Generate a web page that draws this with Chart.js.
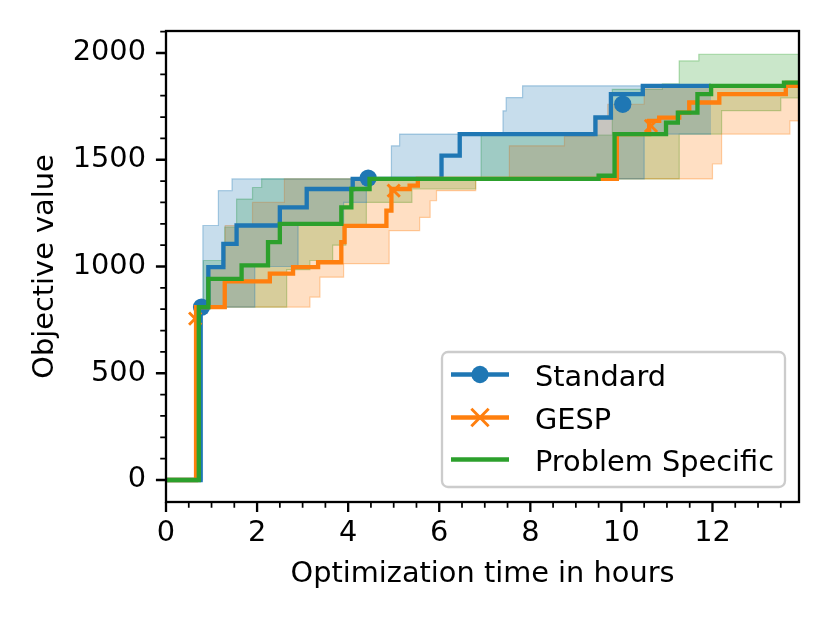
<!DOCTYPE html>
<html>
<head>
<meta charset="utf-8">
<script src="https://cdn.jsdelivr.net/npm/chart.js@4.4.1/dist/chart.umd.min.js"></script>
<style>
  html, body { margin: 0; padding: 0; background: #fff; }
  #wrap { width: 830px; height: 623px; }
</style>
</head>
<body>
<div id="wrap"><canvas id="myChart"></canvas></div>
<script>
// values: time in hours, objective value
// mean curves
var stdT  = [0, 0.76, 0.93, 1.26, 1.55, 2.5, 3.09, 4.1, 6.05, 6.45, 9.43, 9.77, 10.47, 11.97];
var stdY  = [0, 810, 997, 1106, 1192, 1277, 1363, 1410, 1519, 1620, 1698, 1807, 1846, 1846];
var gespT = [0, 0.66, 1.29, 2.28, 2.79, 3.34, 3.85, 3.92, 4.84, 4.95, 5.35, 5.53, 9.9, 10.61, 10.83, 11.27, 11.49, 12.15, 13.61, 13.9];
var gespY = [0, 810, 930, 967, 997, 1020, 1114, 1190, 1262, 1363, 1379, 1410, 1620, 1682, 1697, 1721, 1768, 1807, 1846, 1846];
var probT = [0, 0.72, 0.93, 1.66, 2.24, 2.5, 3.85, 4.07, 4.47, 9.5, 9.85, 10.98, 11.24, 11.67, 11.97, 13.57, 13.9];
var probY = [0, 810, 942, 1005, 1114, 1200, 1277, 1363, 1410, 1425, 1620, 1674, 1721, 1807, 1846, 1861, 1861];

// spread bands (upper / lower)
var stdUpT  = [0, 0.72, 0.81, 1.15, 1.45, 4.95, 5.13, 7.4, 7.47, 7.83, 11.97];
var stdUpY  = [0, 810, 1192, 1355, 1410, 1565, 1620, 1729, 1791, 1846, 1846];
var stdLoT  = [0, 0.8, 1.95, 2.9, 3.9, 4.4, 9.45, 10.5, 11.97];
var stdLoY  = [0, 810, 1000, 1192, 1300, 1410, 1410, 1620, 1620];
var gespUpT = [0, 0.64, 0.9, 1.3, 1.9, 2.6, 7.54, 8.75, 9.4, 9.7, 10.5, 12.2, 13.6, 13.9];
var gespUpY = [0, 810, 1000, 1192, 1300, 1410, 1565, 1610, 1700, 1760, 1846, 1850, 1870, 1870];
var gespLoT = [0, 0.68, 3.16, 3.38, 3.9, 4.9, 5.57, 5.8, 5.94, 6.8, 12.0, 12.2, 13.7, 13.9];
var gespLoY = [0, 810, 857, 950, 1013, 1168, 1230, 1308, 1355, 1410, 1480, 1620, 1682, 1682];
var probUpT = [0, 0.76, 0.82, 1.29, 1.55, 1.9, 2.1, 6.92, 9.8, 10.9, 11.27, 11.7, 13.9];
var probUpY = [0, 810, 1028, 1184, 1316, 1370, 1410, 1615, 1830, 1855, 1963, 1994, 1994];
var probLoT = [0, 0.78, 2.65, 3.16, 3.66, 3.95, 4.4, 5.4, 6.8, 11.27, 12.2, 13.5, 13.9];
var probLoY = [0, 810, 985, 1028, 1100, 1190, 1300, 1363, 1410, 1620, 1730, 1790, 1790];

// marker positions
var stdMarkT  = [0.78, 4.44, 10.03];
var stdMarkY  = [810, 1414, 1760];
var gespMarkT = [0.64, 5.0, 10.65];
var gespMarkY = [756, 1355, 1659];

var xTicks = [0, 2, 4, 6, 8, 10, 12];
var yTicks = [0, 500, 1000, 1500, 2000];
var seriesNames = ["Standard", "GESP", "Problem Specific"];

var blue = "#1f77b4", orange = "#ff7f0e", green = "#2ca02c";
function pts(t, y) { return t.map(function (v, i) { return {x: v, y: y[i]}; }); }
function alpha(hex, a) {
  var n = parseInt(hex.slice(1), 16);
  return "rgba(" + (n >> 16) + "," + ((n >> 8) & 255) + "," + (n & 255) + "," + a + ")";
}
function band(t, y, col, fill) {
  return {
    data: pts(t, y), stepped: true, pointRadius: 0, borderWidth: 1.2,
    borderColor: alpha(col, 0.35), backgroundColor: alpha(col, 0.25),
    fill: fill, order: 10
  };
}

var PX = 830 / 288;  // px per pt, figure was 4x3 in
var FS = 10 * PX;

Chart.defaults.font.family = "'DejaVu Sans'";
Chart.defaults.font.size = FS;
Chart.defaults.color = "#000";

// matplotlib style spines, ticks and legend
var mplAxes = {
  id: 'mplAxes',
  afterDraw: function (chart) {
    var ctx = chart.ctx, a = chart.chartArea;
    var xs = chart.scales.x, ys = chart.scales.y;
    ctx.save();
    ctx.strokeStyle = "#000";
    ctx.lineWidth = 0.6 * PX;
    ctx.beginPath();
    for (var v = 0; v <= xs.max; v += 0.5) {
      if (v % 2 === 0) continue;
      var px = xs.getPixelForValue(v);
      ctx.moveTo(px, a.bottom); ctx.lineTo(px, a.bottom + 2 * PX);
    }
    for (var w = 0; w <= ys.max; w += 100) {
      if (w % 500 === 0) continue;
      var py = ys.getPixelForValue(w);
      ctx.moveTo(a.left, py); ctx.lineTo(a.left - 2 * PX, py);
    }
    ctx.stroke();
    ctx.lineWidth = 0.8 * PX;
    ctx.beginPath();
    xTicks.forEach(function (v) {
      var px = xs.getPixelForValue(v);
      ctx.moveTo(px, a.bottom); ctx.lineTo(px, a.bottom + 3.5 * PX);
    });
    yTicks.forEach(function (v) {
      var py = ys.getPixelForValue(v);
      ctx.moveTo(a.left, py); ctx.lineTo(a.left - 3.5 * PX, py);
    });
    ctx.stroke();
    ctx.strokeRect(a.left, a.top, a.right - a.left, a.bottom - a.top);

    // legend
    var lx = 442, ly = 352, lw = 343, lh = 135, r = 6;
    ctx.beginPath();
    ctx.moveTo(lx + r, ly);
    ctx.arcTo(lx + lw, ly, lx + lw, ly + lh, r);
    ctx.arcTo(lx + lw, ly + lh, lx, ly + lh, r);
    ctx.arcTo(lx, ly + lh, lx, ly, r);
    ctx.arcTo(lx, ly, lx + lw, ly, r);
    ctx.closePath();
    ctx.fillStyle = "rgba(255,255,255,0.8)";
    ctx.fill();
    ctx.strokeStyle = "#cccccc";
    ctx.lineWidth = 0.8 * PX;
    ctx.stroke();
    var cols = [blue, orange, green];
    var rows = [374.5, 417.5, 459.5];
    for (var i = 0; i < 3; i++) {
      var yy = rows[i];
      ctx.strokeStyle = cols[i];
      ctx.lineWidth = 1.5 * PX;
      ctx.beginPath();
      ctx.moveTo(451, yy); ctx.lineTo(509, yy);
      ctx.stroke();
      if (i === 0) {
        ctx.fillStyle = blue;
        ctx.beginPath(); ctx.arc(480, yy, 3 * PX, 0, Math.PI * 2); ctx.fill();
      } else if (i === 1) {
        ctx.lineWidth = 1 * PX;
        ctx.beginPath();
        ctx.moveTo(480 - 3 * PX, yy - 3 * PX); ctx.lineTo(480 + 3 * PX, yy + 3 * PX);
        ctx.moveTo(480 - 3 * PX, yy + 3 * PX); ctx.lineTo(480 + 3 * PX, yy - 3 * PX);
        ctx.stroke();
      }
      ctx.fillStyle = "#000";
      ctx.font = FS + "px 'DejaVu Sans'";
      ctx.textBaseline = "alphabetic";
      ctx.textAlign = "left";
      ctx.fillText(seriesNames[i], 535, yy + 11);
    }
    ctx.restore();
  }
};

var ctx = document.getElementById("myChart").getContext('2d');
var myChart = new Chart(ctx, {
  type: 'line',
  data: {
    datasets: [
      // lines on top: lower order drawn last
      { label: seriesNames[2], data: pts(probT, probY), stepped: true, borderColor: green,
        borderWidth: 1.5 * PX, pointRadius: 0, fill: false, order: 0 },
      { label: seriesNames[1] + ' markers', data: pts(gespMarkT, gespMarkY), showLine: false,
        pointStyle: 'crossRot', pointRadius: 3 * PX, borderColor: orange, borderWidth: 1 * PX, order: 1 },
      { label: seriesNames[1], data: pts(gespT, gespY), stepped: true, borderColor: orange,
        borderWidth: 1.5 * PX, pointRadius: 0, fill: false, order: 2 },
      { label: seriesNames[0] + ' markers', data: pts(stdMarkT, stdMarkY), showLine: false,
        pointStyle: 'circle', pointRadius: 3 * PX, backgroundColor: blue, borderColor: blue, borderWidth: 0, order: 3 },
      { label: seriesNames[0], data: pts(stdT, stdY), stepped: true, borderColor: blue,
        borderWidth: 1.5 * PX, pointRadius: 0, fill: false, order: 4 },
      // bands
      band(stdLoT, stdLoY, blue, false),
      band(stdUpT, stdUpY, blue, '-1'),
      band(gespLoT, gespLoY, orange, false),
      band(gespUpT, gespUpY, orange, '-1'),
      band(probLoT, probLoY, green, false),
      band(probUpT, probUpY, green, '-1')
    ]
  },
  options: {
    responsive: true,
    maintainAspectRatio: false,
    animation: false,
    layout: { padding: { top: 31, right: 31, left: 0, bottom: 0 } },
    plugins: { legend: { display: false }, tooltip: { enabled: false } },
    scales: {
      x: {
        type: 'linear', min: 0, max: 13.9,
        grid: { display: false, drawTicks: false },
        border: { display: false },
        ticks: { padding: 14, maxRotation: 0, callback: function (v) { return String(v); } },
        afterBuildTicks: function (s) { s.ticks = xTicks.map(function (v) { return {value: v}; }); },
        title: { display: true, text: 'Optimization time in hours', padding: { top: 0, bottom: 31 } },
        afterFit: function (s) { s.height = 121; }
      },
      y: {
        type: 'linear', min: -103, max: 2103,
        grid: { display: false, drawTicks: false },
        border: { display: false },
        ticks: { padding: 20, callback: function (v) { return String(v); } },
        afterBuildTicks: function (s) { s.ticks = yTicks.map(function (v) { return {value: v}; }); },
        title: { display: true, text: 'Objective value', padding: { top: 28, bottom: 0 } },
        afterFit: function (s) { s.width = 166; s.paddingTop = 0; s.paddingBottom = 0; }
      }
    }
  },
  plugins: [mplAxes]
});
</script>
</body>
</html>
